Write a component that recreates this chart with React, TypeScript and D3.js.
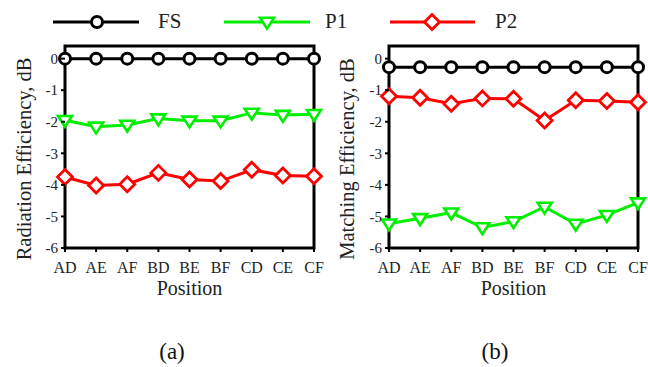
import React from "react";
import * as d3 from "d3";

const positions = ["AD", "AE", "AF", "BD", "BE", "BF", "CD", "CE", "CF"];
const yTicks = [0, -1, -2, -3, -4, -5, -6];

const radFS = [0, 0, 0, 0, 0, 0, 0, 0, 0];
const radP1 = [-1.95, -2.16, -2.1, -1.9, -1.97, -1.97, -1.72, -1.79, -1.76];
const radP2 = [-3.75, -4.02, -3.98, -3.62, -3.83, -3.88, -3.52, -3.7, -3.73];

const matFS = [-0.27, -0.27, -0.27, -0.27, -0.27, -0.27, -0.27, -0.27, -0.27];
const matP1 = [-5.23, -5.06, -4.88, -5.35, -5.16, -4.7, -5.24, -4.96, -4.56];
const matP2 = [-1.19, -1.24, -1.43, -1.26, -1.27, -1.96, -1.32, -1.34, -1.38];

const seriesNames = ["FS", "P1", "P2"];
const seriesColors = ["#000000", "#00ee00", "#ff0000"];
const seriesShapes = ["circle", "triangle", "diamond"];

const FONT = "'Liberation Serif', 'Times New Roman', serif";

function Marker({ shape, x, y, color }: { shape: string; x: number; y: number; color: string }) {
  if (shape === "circle") {
    return <circle cx={x} cy={y} r={5.5} fill="#fff" stroke={color} strokeWidth={3} />;
  }
  if (shape === "triangle") {
    const s = 7;
    const p = `${x - s},${y - s * 0.6} ${x + s},${y - s * 0.6} ${x},${y + s * 0.95}`;
    return <polygon points={p} fill="#fff" stroke={color} strokeWidth={2.6} strokeLinejoin="miter" />;
  }
  const s = 7.5;
  const p = `${x},${y - s} ${x + s},${y} ${x},${y + s} ${x - s},${y}`;
  return <polygon points={p} fill="#fff" stroke={color} strokeWidth={2.8} />;
}

function Panel({
  x0,
  x1,
  data,
  order,
  yLabel,
  yLabelX,
  caption,
  captionX,
}: {
  x0: number;
  x1: number;
  data: number[][];
  order: number[];
  yLabel: string;
  yLabelX: number;
  caption: string;
  captionX: number;
}) {
  const top = 46;
  const bottom = 248;
  const x = d3.scalePoint<string>().domain(positions).range([x0, x1]);
  const y = d3.scaleLinear().domain([-6, 0.4]).range([bottom, top]);
  const line = d3
    .line<number>()
    .x((_, i) => x(positions[i]) as number)
    .y((d) => y(d));
  return (
    <g>
      {order.map((si) => (
        <g key={si}>
          <path d={line(data[si]) || ""} fill="none" stroke={seriesColors[si]} strokeWidth={3} />
        </g>
      ))}
      <rect x={x0} y={top} width={x1 - x0} height={bottom - top} fill="none" stroke="#000" strokeWidth={3} />
      {order.map((si) => (
        <g key={"m" + si}>
          {data[si].map((v, i) => (
            <Marker key={i} shape={seriesShapes[si]} x={x(positions[i]) as number} y={y(v)} color={seriesColors[si]} />
          ))}
        </g>
      ))}
      {yTicks.map((t) => (
        <g key={t}>
          <line x1={x0 - 4} x2={x0} y1={y(t)} y2={y(t)} stroke="#000" strokeWidth={2} />
          <text x={x0 - 7} y={y(t)} dy="0.35em" textAnchor="end" fontSize={15} fontFamily={FONT} fill="#222">
            {t === 0 ? "0" : "-" + Math.abs(t)}
          </text>
        </g>
      ))}
      {positions.map((p) => (
        <g key={p}>
          <line x1={x(p)} x2={x(p)} y1={bottom} y2={bottom + 4} stroke="#000" strokeWidth={2} />
          <text x={x(p)} y={bottom + 25} textAnchor="middle" fontSize={16} fontFamily={FONT} fill="#222">
            {p}
          </text>
        </g>
      ))}
      <text x={(x0 + x1) / 2} y={295} textAnchor="middle" fontSize={20} fontFamily={FONT} fill="#222">
        Position
      </text>
      <text
        transform={`translate(${yLabelX},${(top + bottom) / 2 + 12}) rotate(-90)`}
        textAnchor="middle"
        fontSize={20.5}
        fontFamily={FONT}
        fill="#222"
      >
        {yLabel}
      </text>
      <text x={captionX} y={359} textAnchor="middle" fontSize={23} fontFamily={FONT} fill="#111">
        {caption}
      </text>
    </g>
  );
}

export default function App() {
  const legendItems = [
    { x1: 53, x2: 139, mx: 97, tx: 158 },
    { x1: 224, x2: 310, mx: 267, tx: 325 },
    { x1: 390, x2: 475, mx: 432, tx: 495 },
  ];
  return (
    <svg
      width={648}
      height={367}
      style={{ position: "absolute", left: 0, top: 0, background: "#fff" }}
    >
      <rect width={648} height={367} fill="#fff" />
      {legendItems.map((l, i) => (
        <g key={i}>
          <line x1={l.x1} x2={l.x2} y1={22} y2={22} stroke={seriesColors[i]} strokeWidth={3} />
          <Marker shape={seriesShapes[i]} x={l.mx} y={22} color={seriesColors[i]} />
          <text x={l.tx} y={28} fontSize={21} fontFamily={FONT} fill="#222">
            {seriesNames[i]}
          </text>
        </g>
      ))}
      <Panel
        x0={65}
        x1={314}
        data={[radFS, radP1, radP2]}
        order={[1, 2, 0]}
        yLabel="Radiation Efficiency, dB"
        yLabelX={31}
        caption="(a)"
        captionX={172}
      />
      <Panel
        x0={389}
        x1={638}
        data={[matFS, matP1, matP2]}
        order={[1, 2, 0]}
        yLabel="Matching Efficiency, dB"
        yLabelX={354}
        caption="(b)"
        captionX={495}
      />
    </svg>
  );
}
